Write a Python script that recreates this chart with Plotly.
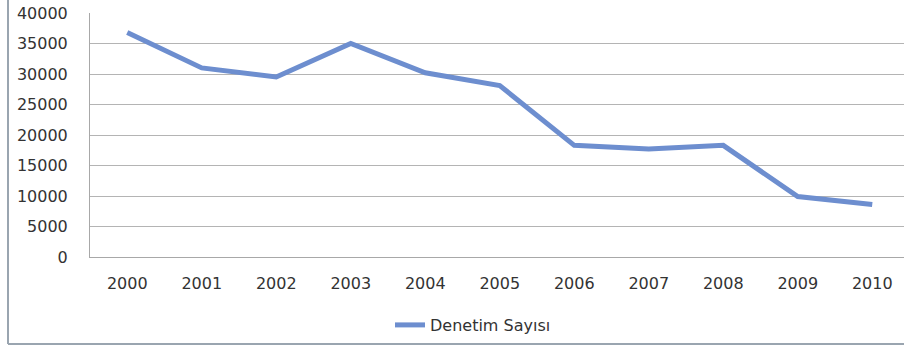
import plotly.graph_objects as go

years = ["2000", "2001", "2002", "2003", "2004", "2005", "2006", "2007", "2008", "2009", "2010"]
denetim = [36800, 31000, 29500, 35000, 30200, 28100, 18300, 17700, 18300, 9900, 8600]
y_ticks = [0, 5000, 10000, 15000, 20000, 25000, 30000, 35000, 40000]
y_tick_labels = ["0", "5000", "10000", "15000", "20000", "25000", "30000", "35000", "40000"]

W, H = 904, 346
L, R, T, B = 90, 0, 13, 89
plot_w = W - L - R
plot_h = H - T - B

x_idx = list(range(len(years)))

fig = go.Figure()
fig.add_trace(go.Scatter(
    x=x_idx, y=denetim, mode="lines", name="Denetim Sayısı",
    line=dict(color="#6d8ecf", width=5),
))

font = dict(family="DejaVu Sans", size=16, color="#333333")

# outer chart frame (left and bottom edges)
fx = (8 - L) / plot_w
fb = -(346 - 2 - (H - B)) / plot_h
ft = (H - B) / plot_h + 0.1
fig.add_shape(type="line", xref="paper", yref="paper", x0=fx, x1=fx, y0=fb, y1=ft,
              line=dict(color="#9aa5b0", width=2))
fig.add_shape(type="line", xref="paper", yref="paper", x0=fx, x1=1.2, y0=fb, y1=fb,
              line=dict(color="#9aa5b0", width=2))

fig.update_layout(
    width=W, height=H,
    margin=dict(l=L, r=R, t=T, b=B),
    paper_bgcolor="white", plot_bgcolor="white",
    font=font,
    showlegend=True,
    legend=dict(orientation="h", x=(390 - L) / plot_w, xanchor="left",
                y=-(325 - (H - B)) / plot_h, yanchor="middle",
                font=font, bgcolor="rgba(0,0,0,0)"),
    xaxis=dict(
        tickmode="array", tickvals=x_idx, ticktext=years,
        range=[-0.5, -0.5 + plot_w / 74.5],
        showgrid=False, zeroline=False,
        showline=True, linecolor="#a8a8a8", linewidth=1,
        ticks="", ticklabelstandoff=12, tickfont=font,
    ),
    yaxis=dict(
        tickmode="array", tickvals=y_ticks, ticktext=y_tick_labels, range=[0, 40000],
        showgrid=True, gridcolor="#b4b4b4", gridwidth=1,
        zeroline=False, showline=True, linecolor="#a8a8a8", linewidth=1,
        ticks="", ticklabelstandoff=18, tickfont=font,
    ),
)

fig.write_html("out.html")
